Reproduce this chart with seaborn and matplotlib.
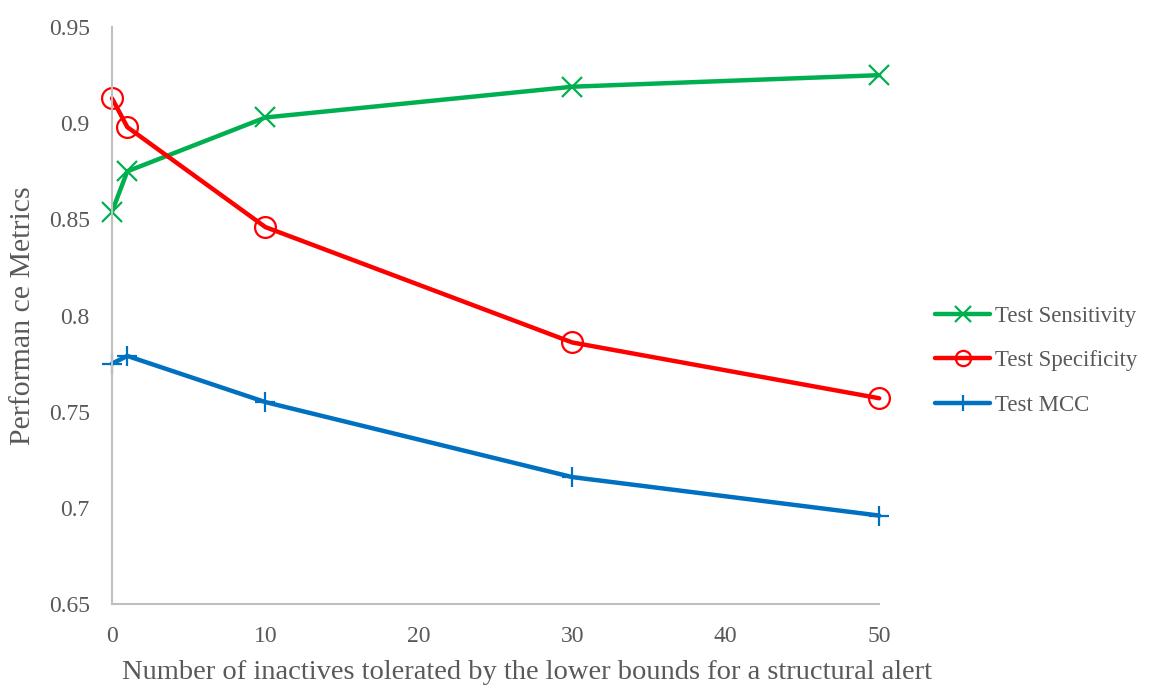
import numpy as np
import pandas as pd
import matplotlib
matplotlib.use("Agg")
import matplotlib.pyplot as plt
import seaborn as sns

# data
tolerated = [0, 1, 10, 30, 50]
sensitivity = [0.854, 0.875, 0.903, 0.919, 0.925]
specificity = [0.913, 0.898, 0.846, 0.786, 0.757]
mcc = [0.775, 0.779, 0.755, 0.716, 0.696]
series_names = ["Test Sensitivity", "Test Specificity", "Test MCC"]

df = pd.concat([
    pd.DataFrame({"x": tolerated, "y": vals, "series": name})
    for name, vals in zip(series_names, [sensitivity, specificity, mcc])
])

sns.set_style("white")
plt.rcParams["font.family"] = ["Liberation Serif", "DejaVu Serif"]
text_color = "#595959"

palette = {"Test Sensitivity": "#00B050", "Test Specificity": "#FF0000", "Test MCC": "#0070C0"}
markers = {"Test Sensitivity": "x", "Test Specificity": "o", "Test MCC": "+"}
msizes = {"Test Sensitivity": 14, "Test Specificity": 15, "Test MCC": 14}

fig = plt.figure(figsize=(11.52, 6.86), dpi=100)
ax = fig.add_axes([0.0972, 0.1195, 0.666, 0.841])

# one call per series: seaborn won't mix filled and line-art markers
for name in series_names:
    sns.lineplot(data=df[df["series"] == name], x="x", y="y",
                 color=palette[name], marker=markers[name],
                 markersize=msizes[name], markerfacecolor="none",
                 markeredgecolor=palette[name], markeredgewidth=1.6,
                 linewidth=3.2, ax=ax, label=name, legend=False, clip_on=False)

ax.set_xlim(0, 50)
ax.set_ylim(0.65, 0.95)
ax.set_xticks([0, 10, 20, 30, 40, 50])
ax.set_yticks([0.65, 0.7, 0.75, 0.8, 0.85, 0.9, 0.95])
ax.set_yticklabels(["0.65", "0.7", "0.75", "0.8", "0.85", "0.9", "0.95"])
ax.tick_params(axis="both", labelsize=17, colors=text_color, length=0)
ax.tick_params(axis="y", pad=16)
ax.tick_params(axis="x", pad=16)

for side in ["top", "right"]:
    ax.spines[side].set_visible(False)
for side in ["left", "bottom"]:
    ax.spines[side].set_color("#BFBFBF")
    ax.spines[side].set_linewidth(1.5)

ax.set_xlabel("Number of inactives tolerated by the lower bounds for a structural alert",
              fontsize=20.5, color=text_color)
ax.xaxis.label.set_va("center")
ax.xaxis.set_label_coords(0.541, -0.118)
ax.set_ylabel("Performan ce Metrics", fontsize=21.5, color=text_color)
ax.yaxis.label.set_va("center")
ax.yaxis.set_label_coords(-(112 - 23) / 767, 0.5)

# legend handles: smaller markers like the reference legend
handles = [plt.Line2D([], [], color=palette[n], marker=markers[n], markersize=11,
                      markerfacecolor="none", markeredgewidth=1.6, linewidth=3.2)
           for n in series_names]
fig.legend(handles, series_names, loc="center left", bbox_to_anchor=(0.794, 0.474),
           frameon=False, fontsize=16.5, labelcolor=text_color, handlelength=2.4,
           labelspacing=1.02, handletextpad=0.2)

fig.savefig("out.png", dpi=100)
